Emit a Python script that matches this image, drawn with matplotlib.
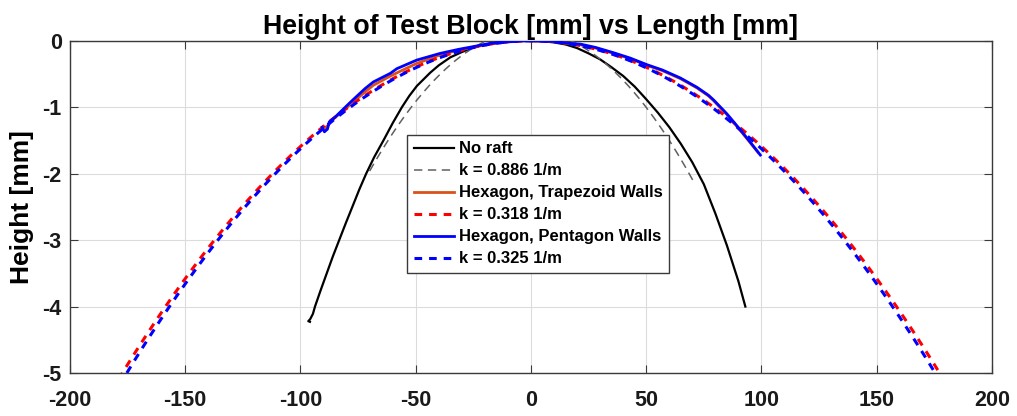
import numpy as np
import matplotlib
matplotlib.use("Agg")
import matplotlib.pyplot as plt

plt.rcParams['font.family'] = ['Liberation Sans', 'DejaVu Sans']
plt.rcParams['font.weight'] = 'bold'
plt.rcParams['lines.scale_dashes'] = False
plt.rcParams['axes.unicode_minus'] = False

# Measured profiles: length [mm] vs height [mm]
noraft_x = [-95.9, -96.6, -95.8, -94.6, -93.7, -91.2, -88.6, -86.0, -83.2, -80.4, -77.5,
            -74.5, -71.5, -68.0, -64.0, -60.0, -56.0, -52.8, -49.5, -43.7, -40.0, -35.0,
            -30.0, -25.0, -20.0, -15.0, -10.0, -6.0, -3.0, 0.0, 5.0, 10.0, 15.0, 20.0,
            25.0, 30.0, 35.0, 40.0, 45.0, 50.0, 55.0, 60.0, 65.0, 70.0, 75.0, 80.0,
            85.0, 90.0, 93.0]
noraft_y = [-4.23, -4.22, -4.19, -4.11, -4.00, -3.75, -3.50, -3.25, -3.00, -2.75, -2.50,
            -2.24, -2.00, -1.75, -1.50, -1.24, -1.00, -0.83, -0.68, -0.48, -0.37, -0.25,
            -0.17, -0.10, -0.06, -0.03, -0.012, -0.003, 0.0, -0.001, -0.005, -0.025, -0.055, -0.11,
            -0.19, -0.28, -0.40, -0.53, -0.69, -0.88, -1.08, -1.30, -1.55, -1.83, -2.16, -2.60,
            -3.08, -3.62, -4.00]

trap_x = [-89.2, -88.0, -86.5, -82.0, -78.5, -72.0, -68.4, -61.0, -55.0, -49.5, -40.0,
          -31.5, -18.0, -8.0, -3.0, 0.0, 10.0, 17.0, 21.4, 28.0, 35.8, 43.0, 50.3, 57.0,
          64.8, 72.0, 77.0, 79.2, 85.0, 90.8, 95.0, 98.5]
trap_y = [-1.31, -1.27, -1.20, -1.07, -0.96, -0.77, -0.67, -0.53, -0.43, -0.34, -0.22,
          -0.14, -0.05, -0.01, 0.0, 0.0, -0.012, -0.045, -0.06, -0.11, -0.19, -0.27,
          -0.37, -0.45, -0.57, -0.71, -0.83, -0.90, -1.11, -1.35, -1.53, -1.68]

pent_x = [-90.6, -89.6, -88.3, -87.5, -85.0, -78.5, -72.0, -68.4, -61.0, -58.2, -49.5,
          -39.4, -31.5, -17.7, -8.0, -3.0, 0.0, 10.0, 17.0, 21.4, 28.0, 35.8, 43.0,
          50.3, 57.0, 64.8, 72.0, 77.0, 79.2, 85.0, 90.8, 95.0, 99.5]
pent_y = [-1.30, -1.37, -1.33, -1.22, -1.15, -0.93, -0.72, -0.62, -0.49, -0.42, -0.29,
          -0.19, -0.13, -0.04, -0.01, 0.0, 0.0, -0.01, -0.04, -0.05, -0.10, -0.18, -0.26,
          -0.36, -0.44, -0.56, -0.70, -0.82, -0.89, -1.10, -1.34, -1.52, -1.72]

# Circular fits: curvature [1/m], apex position and height [mm], plotted span [mm]
k_noraft, apex_x_noraft, apex_noraft, span_noraft = 0.886, -1.0, 0.15, (-70.0, 70.5)
k_trap, apex_x_trap, apex_trap, span_trap = 0.318, 0.0, 0.0, (-200.0, 200.0)
k_pent, apex_x_pent, apex_pent, span_pent = 0.325, 0.0, 0.0, (-200.0, 200.0)


def arc(k, x0, apex, span, n=400):
    r = 1000.0 / k  # radius in mm
    x = np.linspace(span[0], span[1], n)
    return x, apex - (r - np.sqrt(r ** 2 - (x - x0) ** 2))


fig = plt.figure(figsize=(10.17, 4.16), dpi=100)
ax = fig.add_axes([0.0688, 0.1034, 0.9066, 0.7986])

ax.plot(noraft_x, noraft_y, color='black', lw=1.6, label='No raft', zorder=3)
gx, gy = arc(k_noraft, apex_x_noraft, apex_noraft, span_noraft)
ax.plot(gx, gy, color='#606060', lw=1.1, linestyle=(0, (6, 4)),
        label=f'k = {k_noraft:.3f} 1/m', zorder=3)
ax.plot(trap_x, trap_y, color='#D95319', lw=2.0,
        label='Hexagon, Trapezoid Walls', zorder=4)
rx, ry = arc(k_trap, apex_x_trap, apex_trap, span_trap)
ax.plot(rx, ry, color='red', lw=2.2, linestyle=(0, (5.5, 5.0)),
        label=f'k = {k_trap:.3f} 1/m', zorder=5)
ax.plot(pent_x, pent_y, color='blue', lw=2.0,
        label='Hexagon, Pentagon Walls', zorder=6)
bx, by = arc(k_pent, apex_x_pent, apex_pent, span_pent)
ax.plot(bx, by, color='blue', lw=2.2, linestyle=(5.2, (5.5, 5.0)),
        label=f'k = {k_pent:.3f} 1/m', zorder=7)

ax.set_xlim(-200, 200)
ax.set_ylim(-5, 0)
ax.set_xticks(np.arange(-200, 201, 50))
ax.set_yticks(np.arange(-5, 0.1, 1))
ax.grid(True, color='#dcdcdc', lw=0.8)
ax.set_axisbelow(True)

for side in ax.spines.values():
    side.set_color('#3a3a3a')
    side.set_linewidth(1.0)

ax.tick_params(direction='in', length=6, width=0.8, color='#3a3a3a',
               top=True, right=True, labelsize=15.5, labelcolor='#1a1a1a')
ax.tick_params(axis='x', pad=12)
ax.tick_params(axis='y', pad=6)
for lab in ax.get_xticklabels() + ax.get_yticklabels():
    lab.set_fontweight('bold')

ax.set_ylabel('Height [mm]', fontsize=19, fontweight='bold', labelpad=6)
ax.set_title('Height of Test Block [mm] vs Length [mm]', fontsize=19.3,
             fontweight='bold', pad=5)

leg = ax.legend(loc='upper left', bbox_to_anchor=(0.3655, 0.717), borderaxespad=0,
                fontsize=12, frameon=True, fancybox=False, framealpha=1,
                edgecolor='#3a3a3a', handlelength=2.4, handletextpad=0.3,
                labelspacing=0.42, borderpad=0.4)
leg.get_frame().set_linewidth(1.0)
leg.get_lines()[5].set_linestyle((0, (5.5, 5.0)))
for t in leg.get_texts():
    t.set_fontweight('bold')

fig.savefig('out.png', dpi=100)
